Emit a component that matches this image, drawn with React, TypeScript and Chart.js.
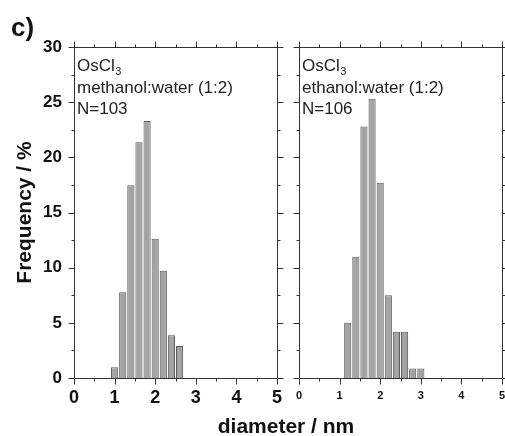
import React, { useEffect, useRef } from 'react';
import { Chart, registerables } from 'chart.js';

Chart.register(...registerables);

const FONT = '"Liberation Sans", Arial, sans-serif';

// Axis ticks
const xTicks = [0, 1, 2, 3, 4, 5];
const yTicks = [0, 5, 10, 15, 20, 25, 30];

// Panel 1: methanol:water (1:2), N=103  (bin centres in nm, frequency in %)
const diameterMethanol = [1.0, 1.2, 1.4, 1.6, 1.8, 2.0, 2.2, 2.4, 2.6];
const freqMethanol = [0.97, 7.77, 17.48, 21.36, 23.3, 12.62, 9.71, 3.88, 2.91];
const textMethanol = ['methanol:water (1:2)', 'N=103'];

// Panel 2: ethanol:water (1:2), N=106
const diameterEthanol = [1.2, 1.4, 1.6, 1.8, 2.0, 2.2, 2.4, 2.6, 2.8, 3.0];
const freqEthanol = [5.0, 11.0, 22.8, 25.3, 17.7, 7.5, 4.2, 4.2, 0.85, 0.85];
const textEthanol = ['ethanol:water (1:2)', 'N=106'];

const compound = 'OsCl';
const compoundSub = '3';

const xTitle = 'diameter / nm';
const yTitle = 'Frequency / %';
const panelLabel = 'c)';

function midpoints(arr: number[]): number[] {
  const out: number[] = [];
  for (let i = 0; i < arr.length - 1; i++) out.push((arr[i] + arr[i + 1]) / 2);
  return out;
}

const framePlugin = {
  id: 'frameTicks',
  afterDatasetsDraw(chart: any) {
    const { ctx, chartArea } = chart;
    const { left, right, top, bottom } = chartArea;
    const xs = chart.scales.x;
    const ys = chart.scales.y;
    const a = (v: number) => Math.round(v) + 0.5;
    ctx.save();
    ctx.strokeStyle = '#333';
    ctx.lineWidth = 1;
    ctx.beginPath();
    ctx.rect(a(left), a(top), Math.round(right) - Math.round(left), Math.round(bottom) - Math.round(top));
    ctx.stroke();
    const drawX = (vals: number[], len: number) => {
      vals.forEach((v) => {
        const px = a(xs.getPixelForValue(v));
        ctx.beginPath();
        ctx.moveTo(px, a(bottom));
        ctx.lineTo(px, a(bottom) + len);
        ctx.moveTo(px, a(top));
        ctx.lineTo(px, a(top) - len);
        ctx.stroke();
      });
    };
    const drawY = (vals: number[], len: number) => {
      vals.forEach((v) => {
        const py = a(ys.getPixelForValue(v));
        ctx.beginPath();
        ctx.moveTo(a(left), py);
        ctx.lineTo(a(left) - len, py);
        ctx.moveTo(a(right), py);
        ctx.lineTo(a(right) + len, py);
        ctx.stroke();
      });
    };
    drawX(xTicks, 6);
    drawX(midpoints(xTicks), 3);
    drawY(yTicks, 6);
    drawY(midpoints(yTicks), 3);
    ctx.restore();
  },
};

function makeTextPlugin(lines: string[]) {
  return {
    id: 'panelText',
    afterDatasetsDraw(chart: any) {
      const { ctx, chartArea } = chart;
      const x = chartArea.left + 3;
      const t = chartArea.top;
      ctx.save();
      ctx.fillStyle = '#222';
      ctx.textBaseline = 'alphabetic';
      ctx.textAlign = 'left';
      ctx.font = `17px ${FONT}`;
      ctx.fillText(compound, x, t + 24);
      const w = ctx.measureText(compound).width;
      ctx.font = `11px ${FONT}`;
      ctx.fillText(compoundSub, x + w + 0.5, t + 28);
      ctx.font = `17px ${FONT}`;
      lines.forEach((s, i) => ctx.fillText(s, x, t + 46 + i * 21));
      ctx.restore();
    },
  };
}

function makeConfig(
  diam: number[],
  freq: number[],
  lines: string[],
  showY: boolean,
  rightPad: number,
  yWidth: number,
  xFontSize: number,
  xPad: number
): any {
  return {
    type: 'bar',
    data: {
      datasets: [
        {
          data: diam.map((d, i) => ({ x: d, y: freq[i] })),
          backgroundColor: '#a4a4a4',
          borderColor: '#5a5a5a',
          borderWidth: 1,
          barPercentage: 0.88,
          categoryPercentage: 1,
        },
      ],
    },
    options: {
      animation: false,
      responsive: false,
      maintainAspectRatio: false,
      events: [],
      layout: { padding: { top: 47, right: rightPad, left: 0, bottom: 0 } },
      plugins: {
        legend: { display: false },
        tooltip: { enabled: false },
        title: { display: false },
      },
      scales: {
        x: {
          type: 'linear',
          min: 0,
          max: 5,
          offset: false,
          grid: { display: false, drawTicks: false, offset: false },
          border: { display: false },
          afterBuildTicks: (s: any) => {
            s.ticks = xTicks.map((v) => ({ value: v }));
          },
          ticks: {
            padding: xPad,
            autoSkip: false,
            maxRotation: 0,
            color: '#111',
            font: { family: FONT, size: xFontSize, weight: 'bold' },
            callback: (v: any) => String(v),
          },
          afterFit: (s: any) => {
            s.height = 58;
            s.paddingLeft = 0;
            s.paddingRight = 0;
          },
        },
        y: {
          type: 'linear',
          min: 0,
          max: 30,
          grid: { display: false, drawTicks: false },
          border: { display: false },
          afterBuildTicks: (s: any) => {
            s.ticks = yTicks.map((v) => ({ value: v }));
          },
          ticks: {
            display: showY,
            padding: 12,
            color: '#111',
            font: { family: FONT, size: 17, weight: 'bold' },
            callback: (v: any) => String(v),
          },
          title: {
            display: showY,
            text: yTitle,
            color: '#111',
            font: { family: FONT, size: 21, weight: 'bold' },
            padding: { top: 13, bottom: 0 },
          },
          afterFit: (s: any) => {
            s.width = yWidth;
            s.paddingTop = 0;
            s.paddingBottom = 0;
          },
        },
      },
    },
    plugins: [framePlugin, makeTextPlugin(lines)],
  };
}

export default function App() {
  const leftRef = useRef<HTMLCanvasElement | null>(null);
  const rightRef = useRef<HTMLCanvasElement | null>(null);

  useEffect(() => {
    const c1 = new Chart(
      leftRef.current as HTMLCanvasElement,
      makeConfig(diameterMethanol, freqMethanol, textMethanol, true, 13, 74, 18, 9)
    );
    const c2 = new Chart(
      rightRef.current as HTMLCanvasElement,
      makeConfig(diameterEthanol, freqEthanol, textEthanol, false, 3, 9, 11, 11)
    );
    return () => {
      c1.destroy();
      c2.destroy();
    };
  }, []);

  return (
    <div
      style={{
        position: 'fixed',
        left: 0,
        top: 0,
        width: 505,
        height: 436,
        background: '#fff',
        fontFamily: FONT,
        color: '#111',
        overflow: 'hidden',
      }}
    >
      <canvas
        ref={leftRef}
        width={290}
        height={436}
        style={{ position: 'absolute', left: 0, top: 0, width: 290, height: 436 }}
      />
      <canvas
        ref={rightRef}
        width={215}
        height={436}
        style={{ position: 'absolute', left: 290, top: 0, width: 215, height: 436 }}
      />
      <div
        style={{
          position: 'absolute',
          left: 11,
          top: 14,
          fontSize: 26,
          lineHeight: '26px',
          fontWeight: 'bold',
        }}
      >
        {panelLabel}
      </div>
      <div
        style={{
          position: 'absolute',
          left: 72,
          width: 428,
          top: 415,
          textAlign: 'center',
          fontSize: 21,
          lineHeight: '21px',
          fontWeight: 'bold',
        }}
      >
        {xTitle}
      </div>
    </div>
  );
}
